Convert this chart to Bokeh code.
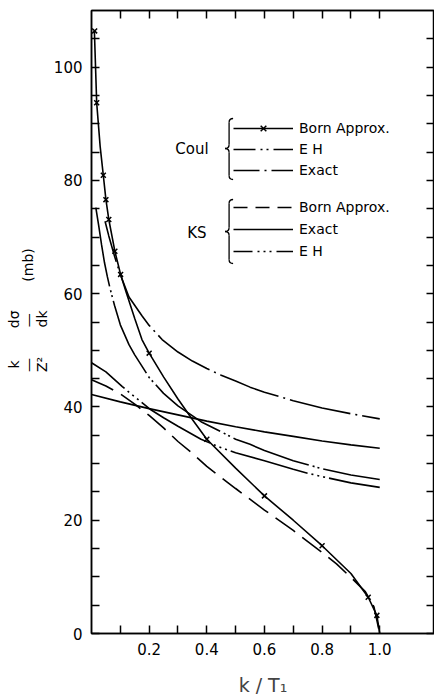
import math
from bokeh.plotting import figure
from bokeh.models import (Range1d, LinearAxis, FixedTicker, Legend, LegendItem,
                          Label, ColumnDataSource, Title)
from bokeh.embed import file_html
from bokeh.resources import INLINE

# ---------------- data ----------------
coul_born_x = [0.01, 0.018, 0.03, 0.041, 0.05, 0.06, 0.081, 0.101, 0.12, 0.15, 0.175, 0.2,
               0.25, 0.3, 0.35, 0.4, 0.5, 0.6, 0.7, 0.8, 0.9, 0.96, 0.99, 1.0]
coul_born_y = [106.4, 93.7, 86.0, 80.9, 76.6, 73.1, 67.5, 63.4, 60.3, 55.6, 51.9, 49.5,
               45.3, 41.4, 37.8, 34.3, 29.2, 24.3, 20.0, 15.5, 10.6, 6.4, 3.2, 0.0]
coul_born_mark_x = [0.011, 0.018, 0.041, 0.05, 0.06, 0.081, 0.101, 0.2, 0.4, 0.6, 0.8, 0.96, 0.99]
coul_born_mark_y = [106.4, 93.7, 80.9, 76.6, 73.1, 67.5, 63.4, 49.5, 34.3, 24.3, 15.5, 6.4, 3.2]

coul_eh_x = [0.015, 0.025, 0.035, 0.045, 0.055, 0.064, 0.08, 0.1, 0.13, 0.15, 0.17, 0.2,
             0.25, 0.3, 0.38, 0.45, 0.5, 0.55, 0.6, 0.7, 0.8, 0.9, 1.0]
coul_eh_y = [75.2, 72.0, 68.6, 65.5, 63.0, 61.0, 57.9, 54.5, 51.0, 49.2, 47.6, 45.2,
             42.4, 40.2, 37.4, 35.6, 34.3, 33.4, 32.3, 30.5, 29.1, 28.0, 27.2]

coul_exact_x = [0.047, 0.06, 0.08, 0.1, 0.13, 0.175, 0.2, 0.245, 0.3, 0.35, 0.4, 0.45,
                0.5, 0.55, 0.6, 0.7, 0.8, 0.9, 1.0]
coul_exact_y = [72.8, 70.2, 66.6, 63.4, 59.4, 56.1, 54.4, 51.9, 49.7, 48.1, 46.8, 45.6,
                44.6, 43.5, 42.6, 41.1, 39.8, 38.8, 37.9]

ks_born_x = [0.0, 0.05, 0.1, 0.15, 0.2, 0.25, 0.3, 0.35, 0.4, 0.5, 0.6, 0.7, 0.8, 0.85,
             0.9, 0.95, 0.98, 1.0]
ks_born_y = [44.8, 43.7, 42.3, 40.5, 38.5, 36.3, 33.9, 31.8, 29.5, 25.6, 21.8, 18.2, 14.3,
             12.3, 9.9, 7.4, 4.7, 0.0]

ks_exact_x = [0.0, 0.1, 0.2, 0.3, 0.4, 0.5, 0.6, 0.7, 0.8, 0.9, 1.0]
ks_exact_y = [42.2, 40.9, 39.7, 38.6, 37.5, 36.5, 35.6, 34.8, 34.0, 33.3, 32.7]

ks_eh_x = [0.0, 0.05, 0.107, 0.13, 0.15, 0.17, 0.206, 0.25, 0.3, 0.38, 0.44, 0.5, 0.6,
           0.7, 0.75, 0.8, 0.9, 1.0]
ks_eh_y = [47.8, 46.2, 43.6, 42.6, 41.8, 41.0, 39.5, 38.1, 36.6, 34.3, 33.0, 31.9, 30.5,
           29.0, 28.3, 27.7, 26.6, 25.8]

x_major_ticks = [0.2, 0.4, 0.6, 0.8, 1.0]
x_tick_labels = ["0.2", "0.4", "0.6", "0.8", "1.0"]
x_minor_ticks = [0.1, 0.3, 0.5, 0.7, 0.9]
y_major_ticks = [0, 20, 40, 60, 80, 100]
y_tick_labels = ["0", "20", "40", "60", "80", "100"]
y_minor_ticks = [5, 10, 15, 25, 30, 35, 45, 50, 55, 65, 70, 75, 85, 90, 95, 105]

coul_group = "Coul"
ks_group = "KS"
coul_labels = ["Born Approx.", "E H", "Exact"]
ks_labels = ["Born Approx.", "Exact", "E H"]
x_title = "k / T\u2081"

# ---------------- layout / style ----------------
FONT = "DejaVu Sans"
W, H = 434, 698
X_END, Y_END = 1.19, 110
# page-pixel helpers for annotation placement (frame left=91, bottom=633 on page)
FL, FB, PXU, PYU = 91.0, 633.0, 287.0, 623.0 / 110.0


def DX(px):
    return (px - FL) / PXU


def DY(py):
    return (FB - py) / PYU


p = figure(width=W, height=H, x_range=Range1d(0, X_END), y_range=Range1d(0, Y_END),
           output_backend="svg", toolbar_location=None,
           min_border_left=91, min_border_right=0, min_border_top=10, min_border_bottom=65)
p.xgrid.visible = False
p.ygrid.visible = False
p.outline_line_color = "black"
p.outline_line_width = 1.5
p.background_fill_color = "white"
p.border_fill_color = "white"


def style_axis(ax, labels):
    ax.major_tick_in = 8
    ax.major_tick_out = 0
    ax.minor_tick_in = 8
    ax.minor_tick_out = 0
    ax.axis_line_width = 1.5
    ax.major_tick_line_width = 1.5
    ax.minor_tick_line_width = 1.5
    ax.axis_line_color = "black"
    ax.major_tick_line_color = "black"
    ax.minor_tick_line_color = "black"
    ax.major_label_text_font = FONT
    ax.major_label_text_color = "black"
    ax.major_label_text_font_size = "15px"
    ax.major_label_standoff = 9 if labels else 0


xt = FixedTicker(ticks=x_major_ticks, minor_ticks=x_minor_ticks)
yt = FixedTicker(ticks=y_major_ticks, minor_ticks=y_minor_ticks)

p.xaxis.ticker = xt
p.yaxis.ticker = yt
p.xaxis.major_label_overrides = dict(zip(x_major_ticks, x_tick_labels))
p.yaxis.major_label_overrides = dict(zip(y_major_ticks, y_tick_labels))
style_axis(p.xaxis[0], True)
style_axis(p.yaxis[0], True)
p.xaxis.axis_label = x_title
p.xaxis.axis_label_text_font = FONT
p.xaxis.axis_label_text_font_size = "19px"
p.xaxis.axis_label_text_font_style = "normal"
p.xaxis.axis_label_standoff = 16

top = LinearAxis(ticker=FixedTicker(ticks=x_major_ticks, minor_ticks=x_minor_ticks))
right = LinearAxis(ticker=FixedTicker(ticks=y_major_ticks, minor_ticks=y_minor_ticks))
style_axis(top, False)
style_axis(right, False)
top.major_label_overrides = {t: "" for t in x_major_ticks}
right.major_label_overrides = {t: "" for t in y_major_ticks}
p.add_layout(top, "above")
p.add_layout(right, "right")

LW = 1.6
BLK = "black"
# curves
p.line(coul_born_x, coul_born_y, line_color=BLK, line_width=LW)
p.scatter(coul_born_mark_x, coul_born_mark_y, marker="x", size=7, line_color=BLK, line_width=1.5)
p.line(coul_eh_x, coul_eh_y, line_color=BLK, line_width=LW, line_dash="80 4 2 3 2 4")
p.line(coul_exact_x, coul_exact_y, line_color=BLK, line_width=LW, line_dash="62 5 2 5",
       line_dash_offset=20)
p.line(ks_born_x, ks_born_y, line_color=BLK, line_width=LW, line_dash="24 9")
p.line(ks_exact_x, ks_exact_y, line_color=BLK, line_width=LW)
p.line(ks_eh_x, ks_eh_y, line_color=BLK, line_width=LW, line_dash="80 4 2 4 2 4 2 4",
       line_dash_offset=38)

# legend-only renderers (short dash patterns like the key); one NaN row draws nothing
nan = float("nan")
proxy = ColumnDataSource(data=dict(x=[nan], y=[nan]))
lg_cb = p.line("x", "y", source=proxy, line_color=BLK, line_width=LW)
lg_cbm = p.scatter("x", "y", source=proxy, marker="x", size=7, line_color=BLK, line_width=1.5)
lg_ceh = p.line("x", "y", source=proxy, line_color=BLK, line_width=LW, line_dash="22 5 2 4 2 5 40")
lg_cex = p.line("x", "y", source=proxy, line_color=BLK, line_width=LW, line_dash="26 5 2 5 40")
lg_kb = p.line("x", "y", source=proxy, line_color=BLK, line_width=LW, line_dash="14 8")
lg_kex = p.line("x", "y", source=proxy, line_color=BLK, line_width=LW)
lg_keh = p.line("x", "y", source=proxy, line_color=BLK, line_width=LW,
                line_dash="19 5 2 4 2 4 2 5 40")


def make_legend(items, loc, spacing):
    lg = Legend(items=items, location=loc, orientation="vertical", glyph_width=60,
                glyph_height=20, label_height=20, spacing=spacing, padding=0, margin=0,
                label_standoff=6, border_line_color=None, background_fill_alpha=0,
                label_text_font=FONT, label_text_font_size="14px", label_text_color=BLK)
    return lg


leg1 = make_legend([LegendItem(label=coul_labels[0], renderers=[lg_cb, lg_cbm]),
                    LegendItem(label=coul_labels[1], renderers=[lg_ceh]),
                    LegendItem(label=coul_labels[2], renderers=[lg_cex])], (142, 453), 1)
leg2 = make_legend([LegendItem(label=ks_labels[0], renderers=[lg_kb]),
                    LegendItem(label=ks_labels[1], renderers=[lg_kex]),
                    LegendItem(label=ks_labels[2], renderers=[lg_keh])], (142, 372), 2)
p.add_layout(leg1)
p.add_layout(leg2)

for txt, px, py in [(coul_group, 191, 148), (ks_group, 196, 232)]:
    p.add_layout(Label(x=DX(px), y=DY(py), text=txt, text_font=FONT, text_font_size="15px",
                       text_align="center", text_baseline="middle", text_color=BLK))


# braces
def brace(xt_, xs_, xb_, yt_, ym_, yb_, r=4):
    qs = [((xt_, yt_), (xs_, yt_), (xs_, yt_ + r)),
          ((xs_, ym_ - r), (xs_, ym_), (xb_, ym_)),
          ((xb_, ym_), (xs_, ym_), (xs_, ym_ + r)),
          ((xs_, yb_ - r), (xs_, yb_), (xt_, yb_))]
    p.quadratic(x0=[DX(a[0]) for a, b, c in qs], y0=[DY(a[1]) for a, b, c in qs],
                cx=[DX(b[0]) for a, b, c in qs], cy=[DY(b[1]) for a, b, c in qs],
                x1=[DX(c[0]) for a, b, c in qs], y1=[DY(c[1]) for a, b, c in qs],
                line_color=BLK, line_width=1.3)
    p.segment(x0=[DX(xs_), DX(xs_)], y0=[DY(yt_ + r), DY(ym_ + r)],
              x1=[DX(xs_), DX(xs_)], y1=[DY(ym_ - r), DY(yb_ - r)],
              line_color=BLK, line_width=1.3)


brace(232, 228, 224, 118, 148, 179)
brace(232, 228, 224, 199, 231, 263)

# rotated y-axis title: (k / Z^2)(d sigma / dk) (mb), as a 3-line side title
EM, EN, QS, TS, HS = "\u2003", "\u2002", "\u2005", "\u2009", "\u200a"
ylab_lines = [EN + "k" + EM + EM + TS + HS + "d\u03c3",
              QS + "\u2014" + EM + EM + TS + "\u2014" + EM + EN + EN + QS + "(mb)",
              QS + "Z\u00b2" + EM + EM + HS + "dk"]
ytitle = Title(text="\n".join(ylab_lines), align="left", offset=258, standoff=-2,
               vertical_align="middle", text_font=FONT, text_font_size="14px",
               text_font_style="normal", text_color=BLK, text_line_height=0.9)
p.add_layout(ytitle, "left")

open("out.html", "w").write(file_html(p, INLINE))
